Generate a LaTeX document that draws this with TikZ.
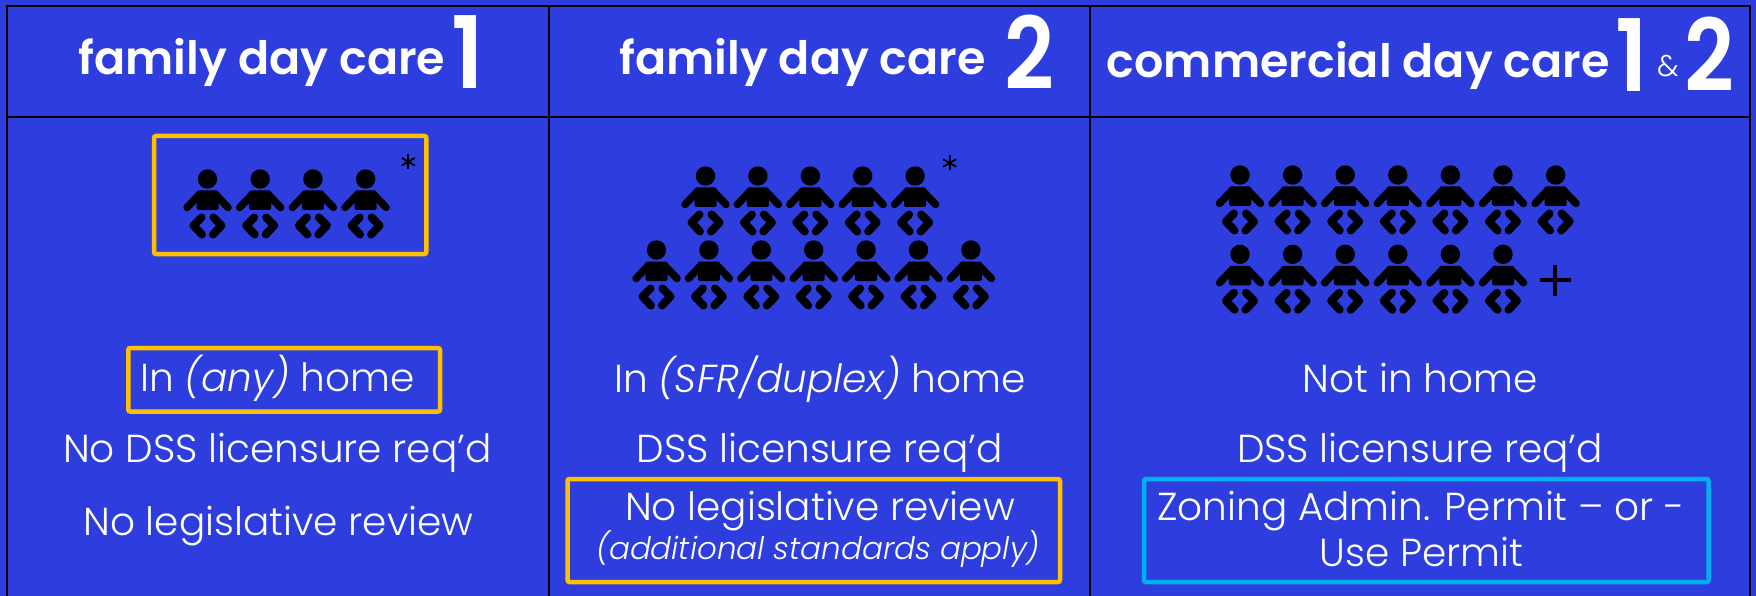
\documentclass[tikz,border=0pt]{standalone}
\usepackage{fontspec}
\setmainfont{Poppins}[UprightFont=* Light, ItalicFont=* Light Italic, BoldFont=* SemiBold]
\definecolor{bg}{HTML}{2E3EDE}
\definecolor{gold}{HTML}{FFC000}
\definecolor{sky}{HTML}{00B0F0}
\tikzset{
  gridline/.style={black, line width=2pt},
  goldbox/.style={draw=gold, line width=4.5pt, rounded corners=2pt},
  skybox/.style={draw=sky, line width=4.5pt, rounded corners=2pt},
  body/.style={text=white, font=\fontsize{39}{42}\selectfont, inner sep=0pt, anchor=base},
  small/.style={text=white, font=\fontsize{31}{33}\selectfont\itshape, inner sep=0pt, anchor=base},
  head/.style={text=white, font=\fontsize{46}{50}\selectfont\bfseries, inner sep=0pt, anchor=base west},
  bignum/.style={text=white, font=\fontsize{100}{100}\selectfont\bfseries, inner sep=0pt, anchor=base west},
  amp/.style={text=white, font=\fontsize{30}{32}\selectfont, inner sep=0pt, anchor=base west},
  baby/.pic={
    \fill[black] (0,0) circle (9.7pt);
    \fill[black, rounded corners=1.5pt] (-11,11.5) rectangle (11,31);
    \draw[black, line width=7.5pt, line cap=round] (-8,15.5) -- (-20.5,28.5);
    \draw[black, line width=7.5pt, line cap=round] (8,15.5) -- (20.5,28.5);
    \draw[black, line width=8pt, line cap=round, line join=round] (-6,38.5) -- (-14,46.5) -- (-5.5,55.5);
    \draw[black, line width=8pt, line cap=round, line join=round] (6,38.5) -- (14,46.5) -- (5.5,55.5);
  },
  star/.pic={
    \draw[black, line width=1.8pt] (0,-7.5) -- (0,7.5);
    \draw[black, line width=1.8pt] (-6.5,-3.75) -- (6.5,3.75);
    \draw[black, line width=1.8pt] (-6.5,3.75) -- (6.5,-3.75);
  }
}
\begin{document}
\begin{tikzpicture}[x=1pt, y=-1pt]
\useasboundingbox (0,0) rectangle (1756,596);
\fill[bg] (0,0) rectangle (1756,596);
% table grid
\draw[gridline] (6.5,596) -- (6.5,6) -- (1750,6) -- (1750,596);
\draw[gridline] (6.5,116.7) -- (1750,116.7);
\draw[gridline] (549.3,6) -- (549.3,596);
\draw[gridline] (1090,6) -- (1090,596);
% headers
\node[head] (h1) at (78.5,75) {family day care};
\node[bignum] (n1) at (451,89) {\scalebox{0.9}[1]{1}};
\node[head] (h2) at (619,75) {family day care};
\node[bignum] (n2) at (1004,89.6) {\scalebox{0.87}[1]{2}};
\node[head] (h3) at (1106.7,78) {commercial day care};
\node[bignum] (n3a) at (1615,91.7) {\scalebox{0.9}[1]{1}};
\node[amp] (amp) at (1657,76.7) {\&};
\node[bignum] (n3b) at (1684,91.7) {\scalebox{0.87}[1]{2}};
% panel 1 babies
\draw[goldbox] (154,136) rectangle (426.3,254);
\foreach \i in {0,...,3} \pic at ({207.5+52.7*\i},179) {baby};
\pic at (408.3,161.7) {star};
% panel 2 babies
\foreach \i in {0,...,4} \pic at ({705.5+52.4*\i},176) {baby};
\foreach \i in {0,...,6} \pic at ({656.5+52.4*\i},250) {baby};
\pic at (949.6,163) {star};
% panel 3 babies
\foreach \i in {0,...,6} \pic at ({1240+52.6*\i},175) {baby};
\foreach \i in {0,...,5} \pic at ({1240+52.6*\i},254.3) {baby};
\coordinate (plus) at (1555,280);
\draw[black, line width=3.3pt] ([xshift=-15.5pt]plus) -- ([xshift=15.5pt]plus);
\draw[black, line width=3.3pt] ([yshift=-15.5pt]plus) -- ([yshift=15.5pt]plus);
% panel 1 text
\draw[goldbox] (128.3,348) rectangle (440,411.5);
\node[body] (t11) at (277.5,391.7) {In \textit{(any)} home};
\node[body] (t12) at (277.4,462.7) {No DSS licensure req’d};
\node[body] (t13) at (278.4,535.3) {No legislative review};
% panel 2 text
\node[body] (t21) at (820,392) {In \textit{(SFR/duplex)} home};
\node[body] (t22) at (819.5,462.7) {DSS licensure req’d};
\draw[goldbox] (567.5,479) rectangle (1060,582);
\node[body] (t23) at (820,520) {No legislative review};
\node[small] (t24) at (818,559.3) {(additional standards apply)};
% panel 3 text
\node[body] (t31) at (1420,392) {Not in home};
\node[body] (t32) at (1420,462.7) {DSS licensure req’d};
\draw[skybox] (1144,479) rectangle (1708.5,582);
\node[body] (t33) at (1421,520) {Zoning Admin. Permit – or -};
\node[body] (t34) at (1421.5,566) {Use Permit};
\end{tikzpicture}
\end{document}
